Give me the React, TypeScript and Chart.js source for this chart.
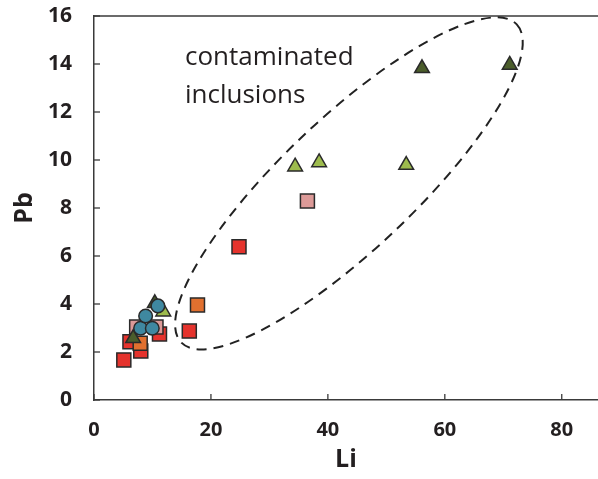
import React, { useEffect, useRef } from "react";
import { Chart, registerables } from "chart.js";

Chart.register(...registerables);

// Data (Li, Pb)
const redLi = [5.1, 6.15, 8.0, 11.2, 16.3, 24.8];
const redPb = [1.67, 2.43, 2.04, 2.75, 2.87, 6.39];
const orangeLi = [7.9, 17.7];
const orangePb = [2.36, 3.96];
const pinkLi = [7.3, 10.6, 36.5];
const pinkPb = [3.04, 3.04, 8.29];
const lightGreenLi = [11.85, 34.4, 38.5, 53.4];
const lightGreenPb = [3.68, 9.72, 9.9, 9.79];
const darkGreenLi = [6.7, 10.4, 56.1, 71.1];
const darkGreenPb = [2.57, 4.03, 13.82, 13.96];
const blueLi = [7.97, 9.97, 8.83, 10.93];
const bluePb = [2.99, 2.99, 3.5, 3.92];

const xTicks = [0, 20, 40, 60, 80];
const yTicks = [0, 2, 4, 6, 8, 10, 12, 14, 16];

// Ellipse annotation (major axis ends in data units)
const ellipseEnd1 = { x: 14.9, y: 2.4 };
const ellipseEnd2 = { x: 72.3, y: 15.65 };
const ellipseSemiMinorPx = 66;

const annotationLines = ["contaminated", "inclusions"];

const pts = (xs: number[], ys: number[]) => xs.map((x, i) => ({ x, y: ys[i] }));

export default function App() {
  const ref = useRef<HTMLCanvasElement>(null);
  useEffect(() => {
    if (!ref.current) return;
    const decor = {
      id: "decor",
      beforeDatasetsDraw(chart: any) {
        const { ctx, chartArea, scales } = chart;
        const xs = scales.x;
        const ys = scales.y;
        ctx.save();
        // top border line
        ctx.strokeStyle = "#3a3a3a";
        ctx.lineWidth = 1.5;
        ctx.beginPath();
        ctx.moveTo(chartArea.left, chartArea.top);
        ctx.lineTo(chartArea.right, chartArea.top);
        ctx.stroke();
        // inward tick marks
        ctx.lineWidth = 1.3;
        xTicks.forEach((v) => {
          const px = xs.getPixelForValue(v);
          ctx.beginPath();
          ctx.moveTo(px, chartArea.bottom);
          ctx.lineTo(px, chartArea.bottom - 6);
          ctx.stroke();
        });
        yTicks.forEach((v) => {
          const py = ys.getPixelForValue(v);
          ctx.beginPath();
          ctx.moveTo(chartArea.left, py);
          ctx.lineTo(chartArea.left + 6, py);
          ctx.stroke();
        });
        // ellipse
        const x1 = xs.getPixelForValue(ellipseEnd1.x);
        const y1 = ys.getPixelForValue(ellipseEnd1.y);
        const x2 = xs.getPixelForValue(ellipseEnd2.x);
        const y2 = ys.getPixelForValue(ellipseEnd2.y);
        const cx = (x1 + x2) / 2;
        const cy = (y1 + y2) / 2;
        const a = Math.hypot(x2 - x1, y2 - y1) / 2;
        const rot = Math.atan2(y2 - y1, x2 - x1);
        ctx.strokeStyle = "#222";
        ctx.lineWidth = 2;
        ctx.setLineDash([10, 7]);
        ctx.beginPath();
        ctx.ellipse(cx, cy, a, ellipseSemiMinorPx, rot, 0, Math.PI * 2);
        ctx.stroke();
        ctx.setLineDash([]);
        // annotation text
        ctx.fillStyle = "#231f20";
        ctx.font = "26px 'Open Sans'";
        ctx.textBaseline = "alphabetic";
        ctx.textAlign = "left";
        ctx.fillText(annotationLines[0], 185, 65);
        ctx.fillText(annotationLines[1], 185, 103);
        ctx.restore();
      },
    };

    const common = { borderColor: "#2a2a2a", borderWidth: 1.5 };
    // Chart.js draws lower-index datasets on top; list top-most first.
    const chart = new Chart(ref.current, {
      type: "scatter",
      data: {
        datasets: [
          { data: pts(blueLi, bluePb), pointStyle: "circle", pointRadius: 6.8, backgroundColor: "#3f88a0", ...common },
          { data: pts(darkGreenLi, darkGreenPb), pointStyle: "triangle", pointRadius: 8.5, backgroundColor: "#4b5d2b", ...common },
          { data: pts(lightGreenLi, lightGreenPb), pointStyle: "triangle", pointRadius: 8.5, backgroundColor: "#9dbb4d", ...common },
          { data: pts(pinkLi, pinkPb), pointStyle: "rect", pointRadius: 9.9, backgroundColor: "#dc9a98", ...common },
          { data: pts(orangeLi, orangePb), pointStyle: "rect", pointRadius: 9.9, backgroundColor: "#e1702f", ...common },
          { data: pts(redLi, redPb), pointStyle: "rect", pointRadius: 9.9, backgroundColor: "#e5332d", ...common },
        ] as any,
      },
      plugins: [decor],
      options: {
        animation: false,
        responsive: false,
        events: [],
        layout: { autoPadding: false, padding: { top: 16, right: 0, left: 0, bottom: 0 } },
        plugins: { legend: { display: false }, tooltip: { enabled: false } },
        scales: {
          x: {
            type: "linear",
            min: 0,
            max: 86.2,
            afterFit: (s: any) => { s.height = 79; s.paddingLeft = 0; s.paddingRight = 0; },
            afterBuildTicks: (s: any) => { s.ticks = xTicks.map((v) => ({ value: v })); },
            grid: { display: false, drawTicks: false },
            border: { display: true, color: "#3a3a3a", width: 1.5 },
            ticks: { includeBounds: false, color: "#231f20", padding: 18, font: { family: "'Open Sans'", size: 20, weight: "bold" } },
            title: { display: true, text: "Li", color: "#231f20", padding: { top: 0, bottom: 4 }, font: { family: "'Open Sans'", size: 25, weight: "bold" } },
          },
          y: {
            type: "linear",
            min: 0,
            max: 16,
            afterFit: (s: any) => { s.width = 94; s.paddingTop = 0; s.paddingBottom = 0; },
            afterBuildTicks: (s: any) => { s.ticks = yTicks.map((v) => ({ value: v })); },
            grid: { display: false, drawTicks: false },
            border: { display: true, color: "#3a3a3a", width: 1.5 },
            ticks: { includeBounds: false, color: "#231f20", padding: 22, font: { family: "'Open Sans'", size: 21, weight: "bold" } },
            title: { display: true, text: "Pb", color: "#231f20", padding: { top: 10, bottom: 0 }, font: { family: "'Open Sans'", size: 25, weight: "bold" } },
          },
        },
      } as any,
    });
    return () => chart.destroy();
  }, []);
  return (
    <div style={{ position: "fixed", left: 0, top: 0, width: 598, height: 479, background: "#fff" }}>
      <canvas ref={ref} width={598} height={479} style={{ display: "block" }} />
    </div>
  );
}
